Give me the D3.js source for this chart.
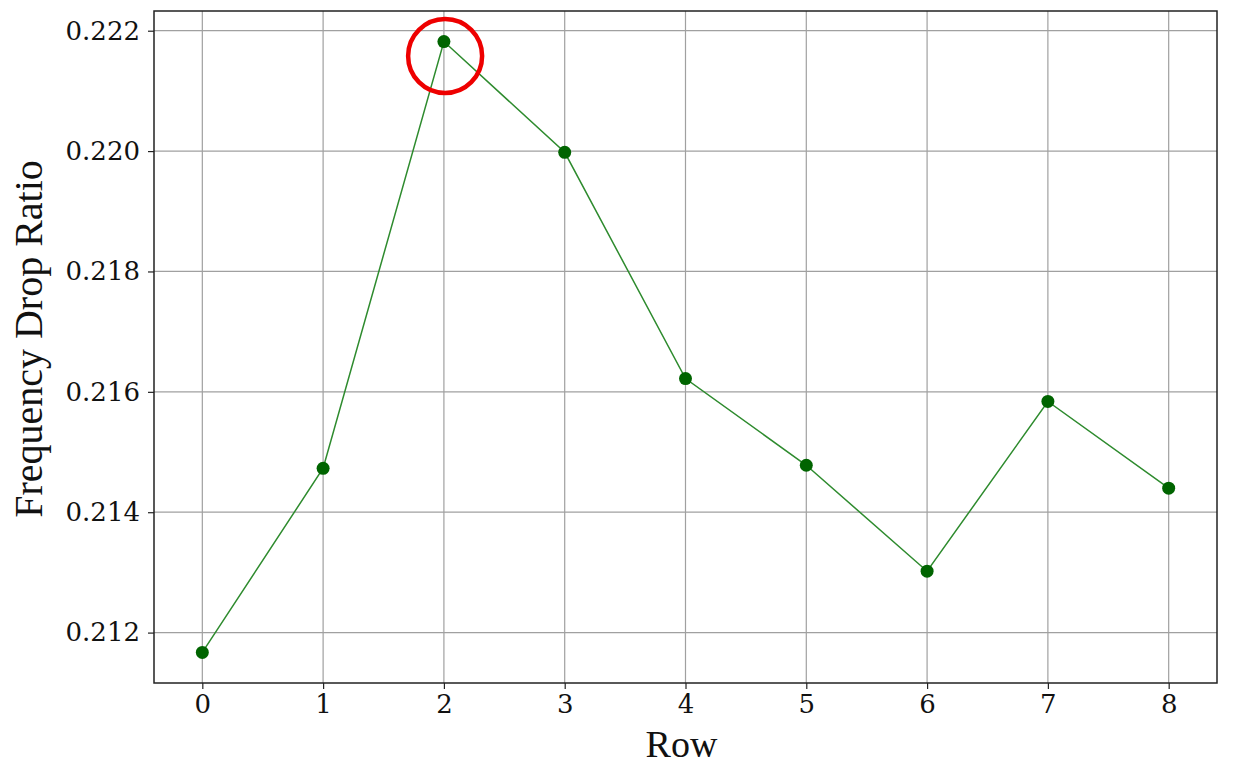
<!DOCTYPE html>
<html>
<head>
<meta charset="utf-8">
<script src="https://cdn.jsdelivr.net/npm/d3@7"></script>
<style>
  body { margin: 0; background: #fff; }
</style>
</head>
<body>
<div id="chart"></div>
<script>
var rows = [0, 1, 2, 3, 4, 5, 6, 7, 8];
var ratios = [0.21167, 0.21473, 0.22182, 0.21998, 0.21622, 0.21478, 0.21302, 0.21584, 0.21440];
var yTicks = [0.212, 0.214, 0.216, 0.218, 0.220, 0.222];
// highlighted point (red ring)
var highlight = {row: 2.01, ratio: 0.22158};

var svgWidth = 1239;
var svgHeight = 767;
var margin = {top: 11, right: 22, bottom: 84, left: 154};
var width = svgWidth - margin.left - margin.right;
var height = svgHeight - margin.top - margin.bottom;

var svg = d3.select("#chart")
    .append("svg")
    .attr("width", svgWidth)
    .attr("height", svgHeight);

var chartGroup = svg.append("g")
    .attr("transform", `translate(${margin.left}, ${margin.top})`);

// matplotlib-style 5% padding
var xPad = (d3.max(rows) - d3.min(rows)) * 0.05;
var yPad = (d3.max(ratios) - d3.min(ratios)) * 0.05;

var xScale = d3.scaleLinear()
    .domain([d3.min(rows) - xPad, d3.max(rows) + xPad])
    .range([0, width]);

var yScale = d3.scaleLinear()
    .domain([d3.min(ratios) - yPad, d3.max(ratios) + yPad])
    .range([height, 0]);

// grid
chartGroup.append("g")
    .selectAll("line.vgrid")
    .data(rows)
    .enter()
    .append("line")
    .attr("x1", d => xScale(d))
    .attr("x2", d => xScale(d))
    .attr("y1", 0)
    .attr("y2", height)
    .attr("stroke", "#a0a0a0")
    .attr("stroke-width", 1.2);

chartGroup.append("g")
    .selectAll("line.hgrid")
    .data(yTicks)
    .enter()
    .append("line")
    .attr("x1", 0)
    .attr("x2", width)
    .attr("y1", d => yScale(d))
    .attr("y2", d => yScale(d))
    .attr("stroke", "#a0a0a0")
    .attr("stroke-width", 1.2);

// axes
var bottomAxis = d3.axisBottom(xScale).tickValues(rows).tickFormat(d3.format("d")).tickSize(6).tickPadding(6);
var leftAxis = d3.axisLeft(yScale).tickValues(yTicks).tickFormat(d3.format(".3f")).tickSize(6).tickPadding(8);

var xAxis = chartGroup.append("g")
    .attr("transform", `translate(0, ${height})`)
    .call(bottomAxis);

var yAxis = chartGroup.append("g")
    .call(leftAxis);

[xAxis, yAxis].forEach(function(ax) {
    ax.select(".domain").remove();
    ax.selectAll(".tick line").attr("stroke", "#222").attr("stroke-width", 1.2);
    ax.selectAll(".tick text")
        .attr("fill", "#111")
        .style("font-family", "'DejaVu Serif', serif")
        .style("font-size", "26px");
});

// frame
chartGroup.append("rect")
    .attr("x", 0)
    .attr("y", 0)
    .attr("width", width)
    .attr("height", height)
    .attr("fill", "none")
    .attr("stroke", "#222")
    .attr("stroke-width", 1.5);

// line
var line = d3.line()
    .x((d, i) => xScale(rows[i]))
    .y(d => yScale(d));

chartGroup.append("path")
    .datum(ratios)
    .attr("d", line)
    .attr("fill", "none")
    .attr("stroke", "#2e8b2e")
    .attr("stroke-width", 1.5);

chartGroup.selectAll("circle.pt")
    .data(ratios)
    .enter()
    .append("circle")
    .attr("class", "pt")
    .attr("cx", (d, i) => xScale(rows[i]))
    .attr("cy", d => yScale(d))
    .attr("r", 6.5)
    .attr("fill", "#006400");

// red ring
chartGroup.append("circle")
    .attr("cx", xScale(highlight.row))
    .attr("cy", yScale(highlight.ratio))
    .attr("r", 37)
    .attr("fill", "none")
    .attr("stroke", "#ee0000")
    .attr("stroke-width", 4.5);

// axis labels
svg.append("text")
    .attr("x", margin.left + xScale(4) - 4)
    .attr("y", 757)
    .attr("text-anchor", "middle")
    .style("font-family", "'Liberation Serif', 'Times New Roman', serif")
    .style("font-size", "38px")
    .attr("fill", "#111")
    .text("Row");

svg.append("text")
    .attr("transform", `translate(42, ${margin.top + height / 2 - 8}) rotate(-90)`)
    .attr("text-anchor", "middle")
    .style("font-family", "'Liberation Serif', 'Times New Roman', serif")
    .style("font-size", "40px")
    .attr("fill", "#111")
    .text("Frequency Drop Ratio");
</script>
</body>
</html>
